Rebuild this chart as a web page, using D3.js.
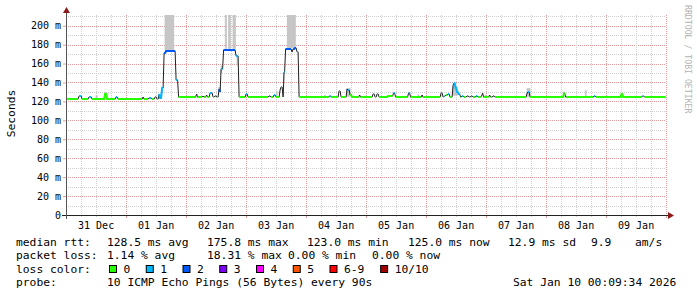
<!DOCTYPE html>
<html>
<head>
<meta charset="utf-8">
<script src="https://cdn.jsdelivr.net/npm/d3@7/dist/d3.min.js"></script>
<style>
  body { margin: 0; background: #fff; }
  text { font-family: "DejaVu Sans Mono", monospace; fill: #000; }
</style>
</head>
<body>
<svg id="chart" width="697" height="297"></svg>
<script>
const endTime = new Date(2026, 0, 10, 0, 9, 34);
const startTime = d3.timeDay.offset(endTime, -10);
const base = new Date(2025, 11, 31); // run hours count from here

// median rtt as runs: start hour, median (ms), lost pings out of 10
const runHours = [0, 5.2, 6.4, 9.2, 10.4, 15.6, 16.4, 20.0, 20.8, 30.8, 31.2, 33.2, 34.4, 35.6, 36.4, 37.2, 37.6, 38.4,
  39.2, 40.0, 44.0, 45.0, 52.2, 52.6, 54.8, 55.2, 56.2, 56.6, 57.6, 58.8, 59.6, 60.4, 61.2, 61.6, 62.0, 63.0, 68.0, 69.2,
  72.0, 72.8, 81.2, 82.0, 83.2, 84.0, 85.6, 86.0, 86.8, 87.2, 87.8, 90.4, 90.8, 91.6, 92.4, 93.2,
  105.4, 106.2, 109.2, 110.0, 112.4, 112.8, 113.6, 114.4, 117.4, 117.8, 122.8, 123.6, 124.4, 125.2, 128.8, 131.0, 131.8,
  137.0, 137.8, 142.4, 142.8, 150.0, 150.8, 151.4, 152.0, 152.8, 153.6, 154.8, 155.2, 155.8, 156.4, 157.0, 157.8,
  158.4, 159.2, 160.4, 161.2, 162.0, 162.8, 164.0, 164.8, 166.2, 166.6, 167.0, 169.4, 169.8, 170.8, 171.6,
  184.4, 184.8, 185.6, 199.2, 199.8, 200.2, 211.2, 212.0, 222.2, 222.8, 230.6, 231.4];
const runMedian = [123, 126, 123, 125, 123, 128, 123, 125, 123, 125, 123, 124, 123, 124.5, 123, 128, 124, 134,
  171, 173.3, 142.6, 125, 127.5, 125, 126, 125, 127, 125, 129, 125, 126, 125, 133, 130, 154, 174.3, 168, 125,
  127.5, 125, 126, 125, 127, 125, 132, 135.5, 125, 151, 175, 172, 175, 176.5, 172, 125,
  125.5, 125, 131, 125, 133, 132, 126.5, 125, 127, 125, 127.5, 125, 127.5, 125, 126, 128.5, 125,
  129, 125, 127, 125, 128.5, 125, 126, 126.5, 128, 125, 137.5, 139, 134, 130, 127.5, 125,
  125.5, 125, 125.5, 125, 125.5, 125, 125.5, 125, 126, 128.5, 125, 126.5, 125, 125.5, 125,
  128.5, 130, 125, 128.5, 125, 125, 125.5, 125, 127.5, 125, 125.5, 125];
const runLoss = [0, 1, 0, 1, 0, 0, 0, 1, 0, 1, 0, 1, 0, 1, 0, 1, 1, 1,
  2, 2, 1, 0, 1, 0, 1, 0, 1, 0, 1, 0, 1, 0, 2, 2, 1, 2, 1, 0,
  1, 0, 1, 0, 1, 0, 2, 1, 0, 1, 2, 1, 2, 2, 1, 0,
  1, 0, 1, 0, 2, 1, 0, 0, 1, 0, 1, 0, 1, 0, 0, 1, 0,
  1, 0, 1, 0, 1, 0, 1, 0, 1, 0, 2, 1, 1, 1, 1, 0,
  1, 0, 1, 0, 1, 0, 1, 0, 1, 2, 0, 2, 0, 1, 0,
  2, 1, 0, 0, 1, 0, 1, 0, 0, 0, 1, 0];

// smoke (spread of the single pings): from hour, to hour, low ms, high ms
const smokeFrom = [12.0, 15.4, 39.6, 61.0, 62.0, 63.7, 65.0, 66.8, 68.4, 84.2, 87.0, 88.5, 103.4, 112.2, 120.0, 140.8, 154.8, 167.6, 184.4, 207.8];
const smokeTo   = [12.8, 16.2, 43.4, 62.0, 62.6, 64.5, 66.1, 68.1, 68.8, 84.8, 87.4, 92.1, 104.0, 114.0, 120.6, 141.4, 156.8, 168.2, 186.0, 208.4];
const smokeLo   = [123, 128, 174, 130, 150, 175.5, 175.5, 175.5, 158, 125, 140, 176.5, 125, 125, 125, 125, 126, 125, 125, 125];
const smokeHi   = [126.5, 130, 230, 135, 158, 230, 230, 230, 168, 131, 150, 230, 127, 134, 127, 127.5, 136, 127, 134, 132];

const lossLabels = ["0", "1", "2", "3", "4", "5", "6-9", "10/10"];
const lossColors = ["#26ff00", "#00b8ff", "#0059ff", "#7e00ff", "#ff00ff", "#ff5500", "#ff0000", "#a10000"];

const yTicks = [0, 20, 40, 60, 80, 100, 120, 140, 160, 180, 200];
const rttStats = ["128.5 ms avg", "175.8 ms max", "123.0 ms min", "125.0 ms now", "12.9 ms sd", "9.9", "am/s"];
const lossStats = ["1.14 % avg", "18.31 % max", "0.00 % min", "0.00 % now"];
const probeText = "10 ICMP Echo Pings (56 Bytes) every 90s";
const stampText = "Sat Jan 10 00:09:34 2026";

const svg = d3.select("#chart");
const L = 66, R = 666, T = 15, B = 215;
const stepH = 0.4; // one pixel column = 24 minutes

const x = d3.scaleTime().domain([startTime, endTime]).range([L, R]);
const y = d3.scaleLinear().domain([0, 211.3]).range([B, T]);
const hourToDate = h => new Date(+base + h * 3600e3);
const endHour = (endTime - base) / 3600e3;

const lossIndex = n => n <= 5 ? n : (n >= 10 ? 7 : 6);

svg.append("defs").append("clipPath").attr("id", "plot")
  .append("rect").attr("x", L).attr("y", T).attr("width", R - L).attr("height", B - T);

// grid
const minorCol = "#cfcfcf", majorCol = "#e49a9a";
const grid = svg.append("g");
d3.range(10, 211, 10).forEach(v => {
  const yy = Math.round(y(v)) + 0.5;
  grid.append("line").attr("x1", L).attr("x2", R).attr("y1", yy).attr("y2", yy)
    .attr("stroke", v % 20 === 0 ? majorCol : minorCol).attr("stroke-dasharray", "1,1");
});
d3.timeHour.every(6).range(startTime, endTime).forEach(d => {
  const xx = Math.round(x(d)) + 0.5;
  const major = d.getHours() === 0;
  grid.append("line").attr("x1", xx).attr("x2", xx).attr("y1", T).attr("y2", B)
    .attr("stroke", major ? majorCol : minorCol).attr("stroke-dasharray", "1,1");
  grid.append("line").attr("x1", xx).attr("x2", xx).attr("y1", B).attr("y2", B + (major ? 3 : 2))
    .attr("stroke", major ? majorCol : minorCol);
});

const plot = svg.append("g").attr("clip-path", "url(#plot)");

// smoke
plot.selectAll("rect.smoke").data(smokeFrom).join("rect").attr("class", "smoke")
  .attr("x", (d, i) => x(hourToDate(d)))
  .attr("width", (d, i) => x(hourToDate(smokeTo[i])) - x(hourToDate(d)))
  .attr("y", (d, i) => y(smokeHi[i]))
  .attr("height", (d, i) => y(smokeLo[i]) - y(smokeHi[i]))
  .attr("fill", "#c6c6c6");

// median points, one at the first and one at the last pixel of every run
const pts = [];
runHours.forEach((h, i) => {
  const h1 = i + 1 < runHours.length ? runHours[i + 1] : endHour;
  const c = lossIndex(runLoss[i]);
  pts.push({ h: h, v: runMedian[i], c: c });
  pts.push({ h: Math.max(h, h1 - stepH), v: runMedian[i], c: c });
});

const line = d3.line().x(p => x(hourToDate(p.h)) + 0.5).y(p => Math.round(y(p.v)));

plot.append("path").datum(pts).attr("d", line)
  .attr("fill", "none").attr("stroke", "#202020").attr("stroke-width", 1);

lossColors.forEach((col, c) => {
  plot.append("path").datum(pts)
    .attr("d", line.defined(p => p.c === c))
    .attr("fill", "none").attr("stroke", col).attr("stroke-width", 2)
    .attr("stroke-linejoin", "miter");
});
line.defined(() => true);

// axes
const yAxis = svg.append("g").attr("transform", `translate(${L},0)`)
  .call(d3.axisLeft(y).tickValues(yTicks).tickSize(3).tickPadding(2)
    .tickFormat(v => v === 0 ? "0" : v + " m"));
yAxis.select(".domain").remove();
yAxis.selectAll("line").attr("stroke", majorCol);
yAxis.selectAll("text").attr("font-family", "DejaVu Sans Mono").attr("font-size", 10).attr("fill", "#000");

const noons = d3.timeDay.range(d3.timeDay.floor(startTime), endTime)
  .map(d => d3.timeHour.offset(d, 12)).filter(d => d > startTime && d < endTime);
const xAxis = svg.append("g").attr("transform", `translate(0,${B})`)
  .call(d3.axisBottom(x).tickValues(noons).tickSize(0).tickPadding(7)
    .tickFormat(d3.timeFormat("%d %b")));
xAxis.select(".domain").remove();
xAxis.selectAll("text").attr("font-family", "DejaVu Sans Mono").attr("font-size", 10).attr("fill", "#000");

svg.append("line").attr("x1", L - 4).attr("x2", R + 3).attr("y1", B + 0.5).attr("y2", B + 0.5)
  .attr("stroke", "#222");
svg.append("line").attr("x1", L + 0.5).attr("x2", L + 0.5).attr("y1", B + 4).attr("y2", T - 3)
  .attr("stroke", "#555");
svg.append("path").attr("d", `M${L - 3},${T - 2}L${L + 4},${T - 2}L${L + 0.5},${T - 8}Z`).attr("fill", "#8b1a1a");
svg.append("path").attr("d", `M${R + 2},${B - 3}L${R + 2},${B + 4}L${R + 8},${B + 0.5}Z`).attr("fill", "#8b1a1a");

// titles
svg.append("text").attr("transform", "translate(15,113.5) rotate(-90)")
  .attr("text-anchor", "middle").attr("font-size", 11.3).text("Seconds");
svg.append("text").attr("transform", "translate(685,5) rotate(90)")
  .attr("font-size", 8.2).style("fill", "#b4b4b4").text("RRDTOOL / TOBI OETIKER");

// legend
const fs = 11.3;
const leg = svg.append("g").attr("font-size", fs).attr("xml:space", "preserve");
const rows = [245.5, 259, 272.5, 286];
leg.append("text").attr("x", 16).attr("y", rows[0]).text("median rtt:");
[107, 207, 307, 408, 508, 591, 635].forEach((xx, i) =>
  leg.append("text").attr("x", xx).attr("y", rows[0]).text(rttStats[i]));
leg.append("text").attr("x", 16).attr("y", rows[1]).text("packet loss:");
[107, 207, 288, 372].forEach((xx, i) =>
  leg.append("text").attr("x", xx).attr("y", rows[1]).text(lossStats[i]));
leg.append("text").attr("x", 16).attr("y", rows[2]).text("loss color:");
let lx = 109;
lossLabels.forEach((lab, i) => {
  leg.append("rect").attr("x", lx + 0.5).attr("y", 265.5).attr("width", 7).attr("height", 7)
    .attr("fill", lossColors[i]).attr("stroke", "#000");
  leg.append("text").attr("x", lx + 14.5).attr("y", rows[2]).text(lab);
  lx += 14.5 + lab.length * 6.95 + 15.3;
});
leg.append("text").attr("x", 16).attr("y", rows[3]).text("probe:");
leg.append("text").attr("x", 107).attr("y", rows[3]).text(probeText);
leg.append("text").attr("x", 513).attr("y", rows[3]).text(stampText);
</script>
</body>
</html>
